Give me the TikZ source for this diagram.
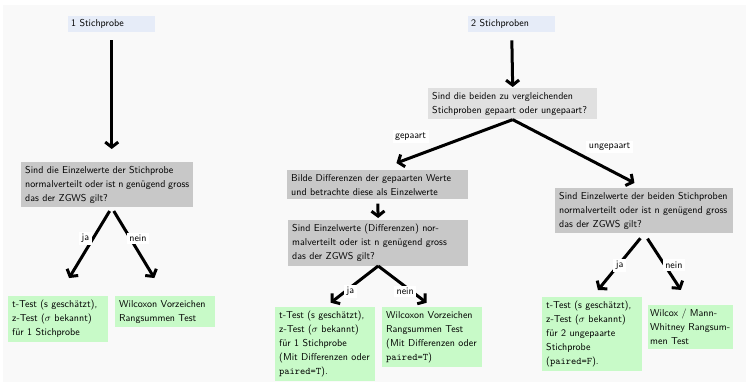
\documentclass[tikz,border=0pt]{standalone}
\usetikzlibrary{arrows.meta}
\definecolor{bgcol}{RGB}{249,249,249}
\definecolor{headblue}{RGB}{230,236,248}
\definecolor{qgray}{RGB}{200,200,200}
\definecolor{qlight}{RGB}{224,224,224}
\definecolor{leafgreen}{RGB}{200,250,200}

\begin{document}
\begin{tikzpicture}[
    x=1pt, y=-1pt,
    every node/.style={font=\sffamily\fontsize{10}{14}\selectfont, align=justify, anchor=north west, inner sep=4pt},
    head/.style={fill=headblue, minimum height=16pt, inner sep=3pt, text width=81pt},
    question/.style={fill=qgray, text width=#1},
    leaf/.style={fill=leafgreen, text width=#1},
    leaf/.default=92pt,
    flow/.style={line width=3pt, -{Straight Barb[length=5pt,width=13pt]}},
    lbl/.style={fill=white, inner sep=2.5pt, anchor=center, align=center}
]
\useasboundingbox (0,0) rectangle (746,382);
\fill[bgcol] (3,5) rectangle (746,382);

\node[head] (h1) at (68,16) {1 Stichprobe};
\node[head] (h2) at (468,16) {2 Stichproben};

\node[question=164pt] (q1) at (21,162) {Sind die Einzelwerte der Stichprobe\\normalverteilt oder ist n genügend gross\\das der ZGWS gilt?};
\node[question=161pt, fill=qlight] (q2) at (428,88) {Sind die beiden zu vergleichenden\\Stichproben gepaart oder ungepaart?};
\node[question=173pt] (d) at (287,170) {Bilde Differenzen der gepaarten Werte\\und betrachte diese als Einzelwerte};
\node[question=172pt] (q3) at (288,220) {Sind Einzelwerte (Differenzen) nor-\\malverteilt oder ist n genügend gross\\das der ZGWS gilt?};
\node[question=170pt] (q4) at (555,188) {Sind Einzelwerte der beiden Stichproben\\normalverteilt oder ist n genügend gross\\das der ZGWS gilt?};

\node[leaf] (l1) at (8,296) {t-Test (s geschätzt),\\z-Test ($\sigma$ bekannt)\\für 1 Stichprobe};
\node[leaf] (l2) at (115,296) {Wilcoxon Vorzeichen\\Rangsummen Test};
\node[leaf] (l3) at (275,307) {t-Test (s geschätzt),\\z-Test ($\sigma$ bekannt)\\für 1 Stichprobe\\(Mit Differenzen oder\\\texttt{paired=T}).};
\node[leaf] (l4) at (382,307) {Wilcoxon Vorzeichen\\Rangsummen Test\\(Mit Differenzen oder\\\texttt{paired=T})};
\node[leaf] (l5) at (542,297) {t-Test (s geschätzt),\\z-Test ($\sigma$ bekannt)\\für 2 ungepaarte\\Stichprobe\\(\texttt{paired=F}).};
\node[leaf=81pt, inner xsep=2pt] (l6) at (648,305) {Wilcox / Mann-\\Whitney Rangsum-\\men Test};

\draw[flow, shorten <=8pt, shorten >=13pt] (h1.south) -- (h1.south |- q1.north);
\draw[flow, shorten <=4pt, shorten >=21pt] (q1.south -| h1.south) -- node[lbl, pos=0.35, xshift=-7.5pt] {ja} (l1.north);
\draw[flow, shorten <=4pt, shorten >=21pt] (q1.south -| h1.south) -- node[lbl, pos=0.35, xshift=7.5pt] {nein} (l2.north);

\draw[flow, shorten <=8pt, shorten >=1pt] (h2.south) -- (q2.north);
\draw[flow, shorten >=20pt] (q2.south) -- node[lbl, pos=0.757, yshift=21pt] {gepaart} (d.north);
\draw[flow, shorten >=11pt] (q2.south) -- node[lbl, pos=0.736, yshift=23pt] {ungepaart} (q4.north);

\draw[flow, shorten <=4pt, shorten >=2pt] (d.south) -- (q3.north);
\draw[flow, shorten >=7pt] (q3.south) -- node[lbl, pos=0.62, xshift=5pt] {ja} (l3.north);
\draw[flow, shorten >=7pt] (q3.south) -- node[lbl, pos=0.62, xshift=-6.5pt] {nein} (l4.north);

\draw[flow, shorten <=6pt, shorten >=9pt] (q4.south) -- node[lbl, pos=0.5, xshift=1.5pt] {ja} (l5.north);
\draw[flow, shorten <=6pt, shorten >=18pt] (q4.south) -- node[lbl, pos=0.444, xshift=9pt] {nein} (l6.north);
\end{tikzpicture}
\end{document}
